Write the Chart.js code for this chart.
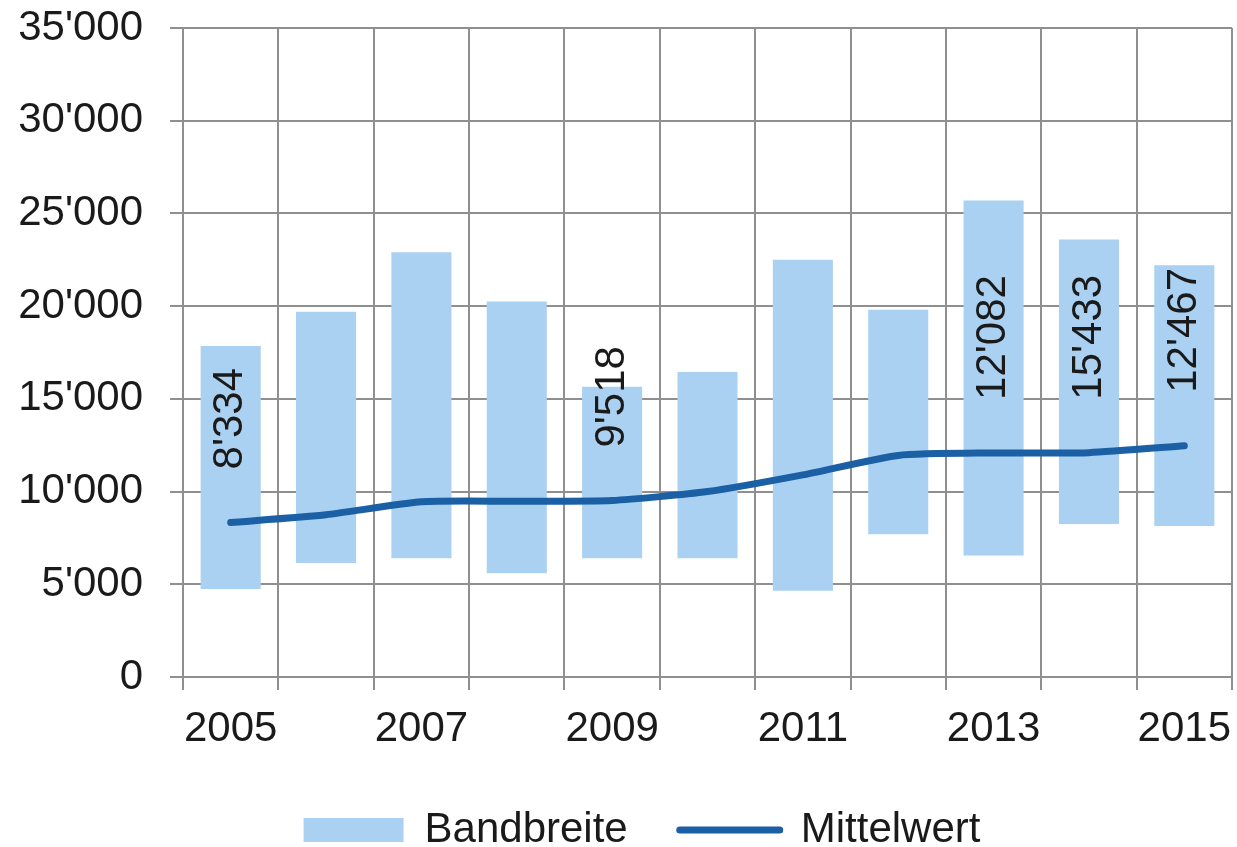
<!DOCTYPE html>
<html>
<head>
<meta charset="utf-8">
<script src="https://cdn.jsdelivr.net/npm/chart.js@4"></script>
<style>
  html, body { margin: 0; padding: 0; background: #fff; }
  #wrap { width: 1237px; height: 847px; }
</style>
</head>
<body>
<div id="wrap"><canvas id="chart" width="1237" height="847"></canvas></div>
<script>
const years = ["2005", "2006", "2007", "2008", "2009", "2010", "2011", "2012", "2013", "2014", "2015"];
const bandMin = [4750, 6150, 6400, 5600, 6400, 6400, 4650, 7700, 6550, 8250, 8150];
const bandMax = [17850, 19700, 22900, 20250, 15650, 16450, 22500, 19800, 25700, 23600, 22200];
const mittelwert = [8334, 8750, 9450, 9480, 9518, 10000, 10900, 11950, 12082, 12100, 12467];
const valueLabels = ["8'334", "", "", "", "9'518", "", "", "", "12'082", "15'433", "12'467"];

const fontFamily = "'Liberation Sans', Arial, sans-serif";
const fontSize = 42;
const textColor = "#1a1a1a";
const gridColor = "#8f8f8f";

function swissNumber(v) {
  return String(v).replace(/\B(?=(\d{3})+(?!\d))/g, "'");
}

// rotated value labels above the Mittelwert points
const rotatedLabels = {
  id: "rotatedLabels",
  afterDatasetsDraw(chart) {
    const meta = chart.getDatasetMeta(1);
    const ctx = chart.ctx;
    ctx.save();
    ctx.font = fontSize + "px " + fontFamily;
    ctx.fillStyle = textColor;
    ctx.textAlign = "left";
    ctx.textBaseline = "middle";
    for (let i = 0; i < valueLabels.length; i++) {
      if (!valueLabels[i]) continue;
      const pt = meta.data[i];
      ctx.save();
      ctx.translate(pt.x, pt.y - 53);
      ctx.rotate(-Math.PI / 2);
      ctx.fillText(valueLabels[i], 0, 0);
      ctx.restore();
    }
    ctx.restore();
  },
};

// nudge the legend a little to the right, like the original
const legendShift = {
  id: "legendShift",
  afterLayout(chart) {
    chart.legend.left += 21;
    chart.legend.right += 21;
  },
};

const canvasRef = document.getElementById("chart");

const myChart = new Chart(canvasRef, {
  data: {
    labels: years,
    datasets: [
      {
        type: "bar",
        label: "Bandbreite",
        data: years.map((y, i) => [bandMin[i], bandMax[i]]),
        backgroundColor: "#abd1f2",
        borderWidth: 0,
        barPercentage: 0.63,
        categoryPercentage: 1,
        order: 1,
      },
      {
        type: "line",
        label: "Mittelwert",
        data: mittelwert,
        borderColor: "#1b5fa5",
        backgroundColor: "#1b5fa5",
        borderWidth: 7,
        borderCapStyle: "round",
        pointRadius: 0,
        tension: 0.2,
        order: 0,
      },
    ],
  },
  options: {
    responsive: false,
    animation: false,
    layout: {
      padding: { left: 10, right: 5, top: 28, bottom: 0 },
    },
    scales: {
      x: {
        grid: {
          color: gridColor,
          lineWidth: 2,
          tickLength: 13,
        },
        border: { color: gridColor, width: 2 },
        ticks: {
          autoSkip: false,
          maxRotation: 0,
          padding: 14,
          color: textColor,
          font: { family: fontFamily, size: fontSize },
          callback: function (value, index) {
            return index % 2 === 0 ? years[index] : "";
          },
        },
        afterFit: function (scale) {
          scale.height = 80;
          scale.paddingLeft = 0;
          scale.paddingRight = 0;
        },
      },
      y: {
        min: 0,
        max: 35000,
        grid: {
          color: gridColor,
          lineWidth: 2,
          tickLength: 13,
        },
        border: { color: gridColor, width: 2 },
        ticks: {
          stepSize: 5000,
          padding: 27,
          color: textColor,
          font: { family: fontFamily, size: fontSize },
          callback: function (value) {
            return swissNumber(value);
          },
        },
        afterFit: function (scale) {
          scale.width = 173;
          scale.paddingTop = 0;
          scale.paddingBottom = 0;
        },
      },
    },
    plugins: {
      tooltip: { enabled: false },
      legend: {
        position: "bottom",
        maxHeight: 90,
        labels: {
          usePointStyle: true,
          pointStyleWidth: 100,
          boxHeight: 24,
          padding: 52,
          color: textColor,
          font: { family: fontFamily, size: fontSize },
          sort: function (a, b) {
            return a.datasetIndex - b.datasetIndex;
          },
          generateLabels: function (chart) {
            const items = Chart.defaults.plugins.legend.labels.generateLabels(chart);
            items.forEach(function (item) {
              if (item.datasetIndex === 0) {
                item.pointStyle = "rect";
                item.lineWidth = 0;
              } else {
                item.pointStyle = "line";
                item.lineWidth = 7;
                item.lineCap = "round";
              }
            });
            return items;
          },
        },
      },
    },
  },
  plugins: [rotatedLabels, legendShift],
});
</script>
</body>
</html>
